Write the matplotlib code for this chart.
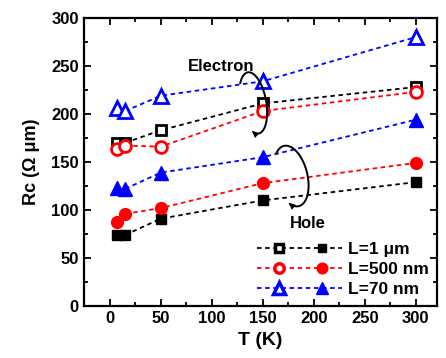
import numpy as np
import matplotlib
matplotlib.use("Agg")
import matplotlib.pyplot as plt
from matplotlib.lines import Line2D
from matplotlib.legend_handler import HandlerBase

plt.rcParams['font.family'] = ['Liberation Sans', 'DejaVu Sans']
plt.rcParams['font.weight'] = 'bold'

# === Data ===
T = [7, 15, 50, 150, 300]

# electron (open markers)
e_1um = [170, 170, 183, 211, 228]
e_500nm = [164, 167, 166, 203, 223]
e_70nm = [206, 203, 219, 234, 280]

# hole (filled markers)
h_1um = [74, 74, 91, 110, 129]
h_500nm = [88, 96, 102, 128, 149]
h_70nm = [123, 122, 139, 155, 194]

labels = ["L=1 \u03bcm", "L=500 nm", "L=70 nm"]
colors = ["black", "red", "blue"]
markers = ["s", "o", "^"]
msizes = [7, 8.5, 10]

DASH = (0, (2.5, 2))


class LegendKey:
    def __init__(self, color, marker, ms):
        self.color = color
        self.marker = marker
        self.ms = ms


class TwoMarkerHandler(HandlerBase):
    def create_artists(self, legend, orig_handle, xdescent, ydescent,
                       width, height, fontsize, trans):
        y = height / 2 - ydescent
        x0 = -xdescent
        line = Line2D([x0, x0 + width], [y, y], color=orig_handle.color,
                      ls=DASH, lw=1.3)
        m1 = Line2D([x0 + 0.25 * width], [y], marker=orig_handle.marker,
                    ms=orig_handle.ms * 0.8, mfc='white', mec=orig_handle.color,
                    mew=2.5, ls='none')
        m2 = Line2D([x0 + 0.76 * width], [y], marker=orig_handle.marker,
                    ms=orig_handle.ms * 0.9, color=orig_handle.color, ls='none')
        for a in (line, m1, m2):
            a.set_transform(trans)
        return [line, m1, m2]


def curved_arrow(ax, cx, cy, a, b, tilt, t0, t1, head_len=7, head_w=3.2):
    # tilted elliptical arc (a, b in pixels) ending in an arrow head
    sx, sy = 1.017, 0.96  # pixels per data unit
    t = np.radians(np.linspace(t0, t1, 120))
    ph = np.radians(tilt)
    u = a * np.cos(t)
    v = b * np.sin(t)
    xs = cx + (u * np.cos(ph) - v * np.sin(ph)) / sx
    ys = cy + (u * np.sin(ph) + v * np.cos(ph)) / sy
    ax.plot(xs[:-3], ys[:-3], color='black', lw=1.4)
    # tangent at the end (pixel space, y up), t decreasing
    te = t[-1]
    du, dv = a * np.sin(te), -b * np.cos(te)
    dx = du * np.cos(ph) - dv * np.sin(ph)
    dy = du * np.sin(ph) + dv * np.cos(ph)
    n = np.hypot(dx, dy)
    dx, dy = dx / n, dy / n
    px = [0, -head_len * dx - head_w * dy, -head_len * dx + head_w * dy]
    py = [0, -head_len * dy + head_w * dx, -head_len * dy - head_w * dx]
    ax.fill(xs[-1] + np.array(px) / sx, ys[-1] + np.array(py) / sy,
            color='black', lw=0)


fig = plt.figure(figsize=(4.46, 3.58), dpi=100)
ax = fig.add_axes([0.188, 0.145, 0.792, 0.805])

for e, h, c, m, ms in zip([e_1um, e_500nm, e_70nm], [h_1um, h_500nm, h_70nm],
                          colors, markers, msizes):
    ax.plot(T[1:], e[1:], ls=DASH, color=c, lw=1.3)
    ax.plot(T[1:], h[1:], ls=DASH, color=c, lw=1.3)
    ax.plot(T, e, ls='none', marker=m, ms=ms, mfc='white', mec=c, mew=2)
    ax.plot(T, h, ls='none', marker=m, ms=ms, color=c)

curved_arrow(ax, 140.6, 211.5, 13, 31, 10, 135, -118)
curved_arrow(ax, 178, 135.4, 16, 31, 14, 125, -125)

ax.text(109, 249, "Electron", ha='center', va='center', fontsize=12, fontweight='bold')
ax.text(194, 86, "Hole", ha='center', va='center', fontsize=12, fontweight='bold')

ax.set_xlim(-25.5, 321)
ax.set_ylim(0, 300)
ax.set_xticks(np.arange(0, 301, 50))
ax.set_xticks(np.arange(-25, 321, 25), minor=True)
ax.set_yticks(np.arange(0, 301, 50))
ax.set_yticks(np.arange(0, 301, 25), minor=True)
ax.tick_params(which='both', direction='in', top=True, right=True, width=1.3)
ax.tick_params(which='major', length=5, labelsize=12)
ax.tick_params(which='minor', length=3)
for s in ax.spines.values():
    s.set_linewidth(1.6)
for lab in ax.get_xticklabels() + ax.get_yticklabels():
    lab.set_fontweight('bold')

ax.set_xlabel("T (K)", fontsize=14, fontweight='bold', labelpad=4)
ax.set_ylabel("Rc (\u03a9 \u03bcm)", fontsize=13, fontweight='bold', labelpad=8)

keys = [LegendKey(c, m, ms) for c, m, ms in zip(colors, markers, msizes)]
ax.legend(keys, labels, handler_map={LegendKey: TwoMarkerHandler()},
          loc='lower right', frameon=False, handlelength=4.9,
          handletextpad=0.3, labelspacing=0.3, borderaxespad=0.1,
          prop={'weight': 'bold', 'size': 12.5})

fig.savefig("out.png", dpi=100)
